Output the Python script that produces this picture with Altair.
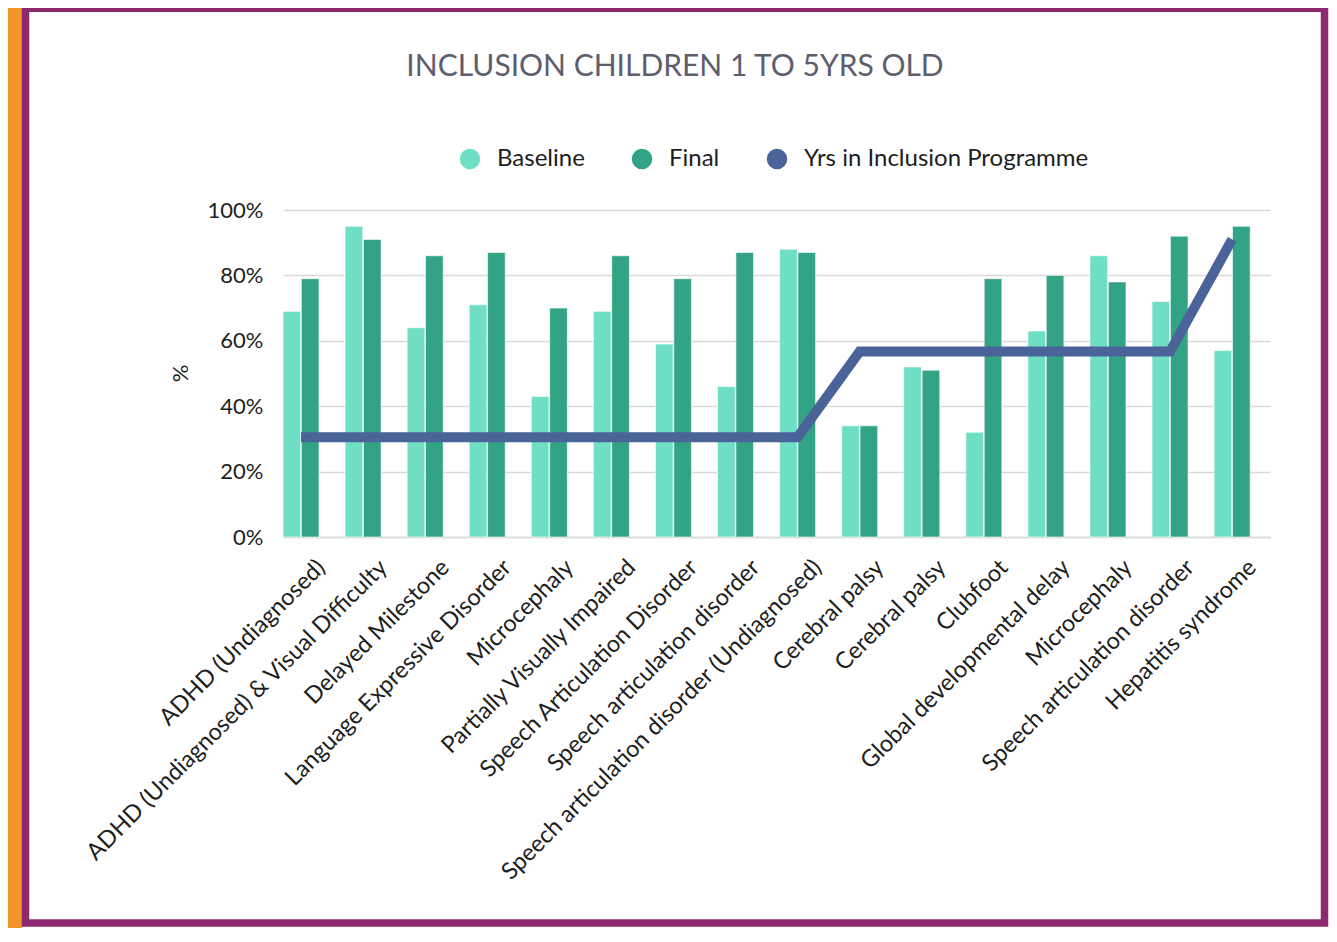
import json
import altair as alt
import pandas as pd

title_text = "INCLUSION CHILDREN 1 TO 5YRS OLD"

categories = [
    "ADHD (Undiagnosed)",
    "ADHD (Undiagnosed) & Visual Difficulty",
    "Delayed Milestone",
    "Language Expressive Disorder",
    "Microcephaly",
    "Partially Visually Impaired",
    "Speech Articulation Disorder",
    "Speech articulation disorder",
    "Speech articulation disorder (Undiagnosed)",
    "Cerebral palsy",
    "Cerebral palsy",
    "Clubfoot",
    "Global developmental delay",
    "Microcephaly",
    "Speech articulation disorder",
    "Hepatitis syndrome",
]
baseline = [69, 95, 64, 71, 43, 69, 59, 46, 88, 34, 52, 32, 63, 86, 72, 57]
final = [79, 91, 86, 87, 70, 86, 79, 87, 87, 34, 51, 79, 80, 78, 92, 95]
yrs_in_programme = [30.5, 30.5, 30.5, 30.5, 30.5, 30.5, 30.5, 30.5, 30.5,
                    56.7, 56.7, 56.7, 56.7, 56.7, 56.7, 91]
series_names = ["Baseline", "Final", "Yrs in Inclusion Programme"]
series_colors = ["#6EDFC4", "#33A386", "#4A6399"]
y_ticks = [0, 20, 40, 60, 80, 100]

rows = []
for i in range(len(categories)):
    rows.append({"idx": i, "series": "Baseline", "value": baseline[i]})
    rows.append({"idx": i, "series": "Final", "value": final[i]})
bars_df = pd.DataFrame(rows)
line_df = pd.DataFrame({"idx": list(range(len(categories))), "value": yrs_in_programme})

FONT = "Lato"
TXT = "#1E1E1E"

x_enc = alt.X(
    "idx:O",
    scale=alt.Scale(paddingInner=0.42, paddingOuter=0.16, align=0),
    axis=alt.Axis(
        title=None,
        labelExpr=json.dumps(categories) + "[datum.value]",
        labelAngle=-45,
        labelAlign="right",
        labelBaseline="top",
        labelOffset=12,
        labelPadding=18,
        labelFont=FONT,
        labelFontSize=23.5,
        labelColor=TXT,
        labelLimit=1000,
        ticks=False,
        tickSize=0,
        domainColor="#d9d9d9",
        domainWidth=1.5,
        grid=False,
    ),
)

y_enc = alt.Y(
    "value:Q",
    scale=alt.Scale(domain=[0, 100], nice=False),
    axis=alt.Axis(
        values=y_ticks,
        labelExpr="datum.value + '%'",
        title="%",
        titleFont=FONT,
        titleFontSize=22,
        titleFontWeight="normal",
        titleColor=TXT,
        titleX=-103,
        titleY=163,
        titleAngle=270,
        titleAlign="center",
        titleBaseline="middle",
        labelFont=FONT,
        labelFontSize=22,
        labelColor=TXT,
        labelPadding=20,
        ticks=False,
        tickSize=0,
        domain=False,
        gridColor="#d9d9d9",
        gridWidth=1.5,
    ),
)

# decorative page frame: orange outer strip and purple border (strokes only)
outer = alt.Chart(alt.Data(values=[{"f": 1}])).mark_rect(
    fill=None, stroke="#F3962A", strokeWidth=22
).encode(
    x=alt.value(-272), x2=alt.value(1057.5),
    y=alt.value(-213), y2=alt.value(730),
)
frame = alt.Chart(alt.Data(values=[{"f": 1}])).mark_rect(
    fill=None, stroke="#8E296F", strokeWidth=7.5
).encode(
    x=alt.value(-257.5), x2=alt.value(1041.5),
    y=alt.value(-201.75), y2=alt.value(713),
)

title = alt.Chart(alt.Data(values=[{"t": title_text}])).mark_text(
    font=FONT, fontSize=30, color="#5E5E6E", align="center", baseline="middle"
).encode(x=alt.value(392), y=alt.value(-143), text="t:N")

bars = alt.Chart(bars_df).mark_bar(stroke="white", strokeWidth=0.6).encode(
    x=x_enc,
    xOffset=alt.XOffset("series:N", scale=alt.Scale(domain=["Baseline", "Final"], paddingInner=0.04)),
    y=y_enc,
    color=alt.Color(
        "series:N",
        scale=alt.Scale(domain=series_names, range=series_colors),
        legend=alt.Legend(
            orient="none",
            legendX=175,
            legendY=-63,
            direction="horizontal",
            title=None,
            symbolType="circle",
            symbolSize=420,
            symbolStrokeWidth=0,
            labelFont=FONT,
            labelFontSize=24,
            labelColor=TXT,
            labelLimit=600,
            labelOffset=15,
            columnPadding=45,
            padding=0,
        ),
    ),
)

line = alt.Chart(line_df).mark_line(
    color="#4A6399", strokeWidth=10, strokeJoin="miter", strokeCap="butt"
).encode(x=x_enc, y=y_enc)

chart = alt.layer(bars, line, title, outer, frame).properties(
    width=987,
    height=327,
    padding={"left": 275, "top": 202, "right": 59, "bottom": 391},
    autosize=alt.AutoSizeParams(type="none"),
    background="white",
).configure_view(stroke=None)

chart.save("out.html", embed_options={"renderer": "svg", "actions": False})
